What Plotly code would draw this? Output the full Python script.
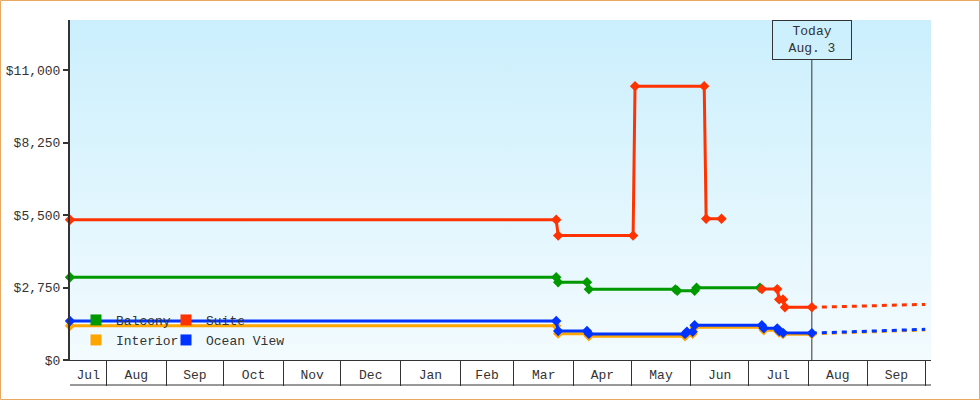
"""
    Cruise fare history: price per cabin type
"""

import base64
import pandas as pd
import plotly.graph_objects as go

# Price history per cabin type (date, USD)
balcony_dates = ["2014-07-13", "2015-03-23", "2015-03-24", "2015-04-08", "2015-04-09",
                 "2015-05-24", "2015-05-25", "2015-06-03", "2015-06-04", "2015-07-07"]
balcony_prices = [3140, 3140, 2950, 2950, 2680, 2680, 2630, 2630, 2740, 2740]

suite_dates = ["2014-07-13", "2015-03-23", "2015-03-24", "2015-05-02", "2015-05-03",
               "2015-06-08", "2015-06-09", "2015-06-17", "2015-06-18", "2015-07-08",
               "2015-07-16", "2015-07-17", "2015-07-19", "2015-07-20", "2015-08-03"]
suite_prices = [5320, 5320, 4720, 4720, 10390, 10390, 5360, 5360, None, 2690,
                2690, 2300, 2300, 2000, 2000]

interior_dates = ["2014-07-13", "2015-03-23", "2015-03-24", "2015-04-08", "2015-04-09",
                  "2015-05-29", "2015-05-30", "2015-06-02", "2015-06-03", "2015-07-08",
                  "2015-07-09", "2015-07-16", "2015-07-17", "2015-07-19", "2015-08-03"]
interior_prices = [1300, 1300, 1000, 1000, 900, 900, 990, 990, 1240, 1240,
                   1130, 1130, 1040, 980, 980]

ocean_dates = ["2014-07-13", "2015-03-23", "2015-03-24", "2015-04-08", "2015-04-09",
               "2015-05-29", "2015-05-30", "2015-06-02", "2015-06-03", "2015-07-08",
               "2015-07-09", "2015-07-16", "2015-07-17", "2015-07-19", "2015-08-03"]
ocean_prices = [1480, 1480, 1100, 1100, 990, 990, 1070, 1070, 1320, 1320,
                1200, 1200, 1100, 1030, 1020]

# Forecast (dotted) from today
forecast_dates = ["2015-08-03", "2015-10-01"]
suite_forecast = [2000, 2110]
interior_forecast = [990, 1140]
ocean_forecast = [1020, 1165]

TODAY = "2015-08-03"
TODAY_TEXT = "Today<br>Aug. 3"

# Axis
x_range = ["2014-07-13", "2015-10-04"]
y_ticks = [0, 2750, 5500, 8250, 11000]
y_labels = ["$0", "$2,750", "$5,500", "$8,250", "$11,000"]
month_labels = ["Jul", "Aug", "Sep", "Oct", "Nov", "Dec", "Jan", "Feb",
                "Mar", "Apr", "May", "Jun", "Jul", "Aug", "Sep"]

COLORS = {"Balcony": "#009900", "Suite": "#FF3300",
          "Interior": "#FFA500", "Ocean View": "#0033FF"}
FONT = "Liberation Mono"
INK = "#333333"

# month labels centred on the visible part of each month
edges = pd.DatetimeIndex([pd.Timestamp(x_range[0])] +
                         list(pd.date_range("2014-08-01", "2015-10-01", freq="MS")))
mids = edges[:-1] + (edges[1:] - edges[:-1]) / 2

fig = go.Figure()

# forecasts first, under the solid lines
for name, vals in [("Suite", suite_forecast), ("Interior", interior_forecast),
                   ("Ocean View", ocean_forecast)]:
    fig.add_trace(go.Scatter(x=forecast_dates, y=vals, mode="lines", showlegend=False,
                             line={"color": COLORS[name], "width": 3, "dash": "5px,5px"}))

series = [("Balcony", balcony_dates, balcony_prices),
          ("Suite", suite_dates, suite_prices),
          ("Interior", interior_dates, interior_prices),
          ("Ocean View", ocean_dates, ocean_prices)]
for name, d, p in series:
    fig.add_trace(go.Scatter(x=d, y=p, name=name, mode="lines+markers", showlegend=False,
                             line={"color": COLORS[name], "width": 3},
                             marker={"symbol": "diamond", "size": 8, "color": COLORS[name]},
                             cliponaxis=False, connectgaps=False))

# legend: one small legend per entry, 2 x 2 grid in the lower left corner
legend_slots = {"Balcony": ("legend", 6, 40), "Suite": ("legend2", 96, 40),
                "Interior": ("legend3", 6, 20), "Ocean View": ("legend4", 96, 20)}
legend_layout = {}
for name, (leg, px_x, px_y) in legend_slots.items():
    fig.add_trace(go.Scatter(x=[None], y=[None], name=name, mode="markers", legend=leg,
                             marker={"symbol": "square", "size": 11, "color": COLORS[name]}))
    legend_layout[leg] = {"x": px_x / 861, "y": px_y / 340, "xanchor": "left",
                          "yanchor": "middle", "bgcolor": "rgba(0,0,0,0)",
                          "font": {"family": FONT, "size": 13, "color": INK}}

# gradient plot background
svg = ("<svg xmlns='http://www.w3.org/2000/svg' width='10' height='100' preserveAspectRatio='none'>"
       "<defs><linearGradient id='g' x1='0' y1='0' x2='0' y2='1'>"
       "<stop offset='0' stop-color='#CBEFFD'/><stop offset='1' stop-color='#F3FBFE'/>"
       "</linearGradient></defs><rect width='10' height='100' fill='url(#g)'/></svg>")
bg = "data:image/svg+xml;base64," + base64.b64encode(svg.encode()).decode()
fig.add_layout_image(source=bg, xref="paper", yref="paper", x=0, y=1, sizex=1, sizey=1,
                     sizing="stretch", xanchor="left", yanchor="top", layer="below")

# today marker line + label box
fig.add_shape(type="line", x0=TODAY, x1=TODAY, xref="x", y0=0, y1=300 / 340, yref="paper",
              line={"color": INK, "width": 1}, layer="below")
fig.add_annotation(x=TODAY, xref="x", y=1, yref="paper", yanchor="top", text=TODAY_TEXT,
                   showarrow=False, width=72, height=32, borderpad=3, borderwidth=1,
                   bordercolor=INK, font={"family": FONT, "size": 13, "color": INK})

# bottom line of the month boxes
fig.add_shape(type="line", xref="paper", x0=0, x1=1, yref="paper", y0=-25 / 340, y1=-25 / 340,
              line={"color": INK, "width": 1})

# outer border
fig.add_shape(type="rect", xref="paper", yref="paper",
              x0=(0.5 - 70) / 861, x1=(979.5 - 70) / 861,
              y0=(360 - 399.5) / 340, y1=(360 - 0.5) / 340,
              line={"color": "#E8A862", "width": 1})

fig.update_layout(
    width=980, height=400,
    margin={"l": 70, "r": 49, "t": 20, "b": 40},
    paper_bgcolor="white", plot_bgcolor="#E4F6FD",
    font={"family": FONT, "size": 13, "color": INK},
    hovermode=False,
    **legend_layout,
    xaxis={"range": x_range, "showgrid": False, "zeroline": False, "automargin": False,
           "showline": True, "linecolor": INK, "linewidth": 1,
           "tickvals": mids, "ticktext": month_labels, "ticks": "",
           "ticklabelstandoff": 2,
           "minor": {"ticks": "outside", "ticklen": 25, "tickwidth": 1, "tickcolor": INK,
                     "dtick": "M1", "tick0": "2014-08-01", "showgrid": False}},
    yaxis={"range": [0, 12900], "showgrid": False, "zeroline": False, "automargin": False,
           "showline": True, "linecolor": INK, "linewidth": 2,
           "tickvals": y_ticks, "ticktext": y_labels,
           "ticks": "outside", "ticklen": 5, "tickwidth": 2, "tickcolor": INK},
)

# page body has a default 8px margin; drop it so the figure sits at the corner
fig.write_html("out.html", config={"displayModeBar": False},
               post_script="document.body.style.margin='0';")
